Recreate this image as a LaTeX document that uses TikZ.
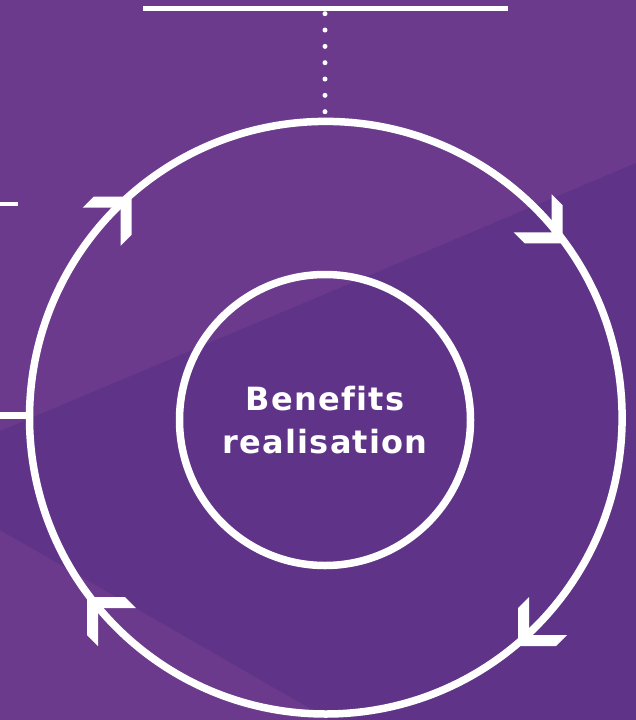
\documentclass[tikz,border=0pt]{standalone}
\usepackage{fontspec}
\setmainfont{DejaVu Sans}[LetterSpace=4,Ligatures=NoCommon]
\definecolor{bglight}{RGB}{108,58,141}
\definecolor{bgdark}{RGB}{95,52,136}
\begin{document}
\begin{tikzpicture}[x=1pt,y=1pt]
\tikzstyle{every node}+=[inner sep=0pt]
\tikzstyle{ring}=[draw=white,circle,line width=7.5pt]
\tikzstyle{bar}=[white,line width=5pt]
\tikzstyle{dots}=[white,line width=5pt,line cap=round,dash pattern=on 0pt off 16.33pt]
\tikzstyle{arrowhead}=[white]
\useasboundingbox (0,0) rectangle (636,-720);
\fill [bglight] (0,0) rectangle (636,-720);
\fill [bgdark] (0,-431) -- (636,-163) -- (636,-720) -- (330,-720) -- (0,-530) -- cycle;
\node [ring,minimum size=592.6pt] (cycle) at (325.8,-417.7) {};
\node [ring,minimum size=291pt,text=white,align=center,font=\bfseries\fontsize{32}{43.5}\selectfont] (benefits) at (325,-420) {Benefits\\realisation};
\coordinate (barL) at (143,-8.5);
\coordinate (barR) at (508,-8.5);
\coordinate (barM) at (325,-8.5);
\draw [bar] (barL) -- (barR);
\draw [dots,shorten <=5.2pt,shorten >=5.95pt] (barM) -- (barM |- cycle.north);
\coordinate (stub) at (0,-204);
\draw [white,line width=4.3pt] (stub) -- ++(18.3,0);
\coordinate (feed) at (0,-415.5);
\draw [white,line width=7.5pt] (feed) -- (feed -| cycle.west);
\fill [arrowhead] (131.7,-196.7) -- (93.7,-196.7) -- (82.7,-207.7) -- (120.7,-207.7) -- (120.7,-245.7) -- (131.7,-234.7) -- cycle;
\fill [arrowhead] (562.7,-243.3) -- (562.7,-205.3) -- (551.7,-194.3) -- (551.7,-232.3) -- (513.7,-232.3) -- (524.7,-243.3) -- cycle;
\fill [arrowhead] (518,-646) -- (556,-646) -- (567,-635) -- (529,-635) -- (529,-597) -- (518,-608) -- cycle;
\fill [arrowhead] (87,-597) -- (87,-635) -- (98,-646) -- (98,-608) -- (136,-608) -- (125,-597) -- cycle;
\end{tikzpicture}
\end{document}
